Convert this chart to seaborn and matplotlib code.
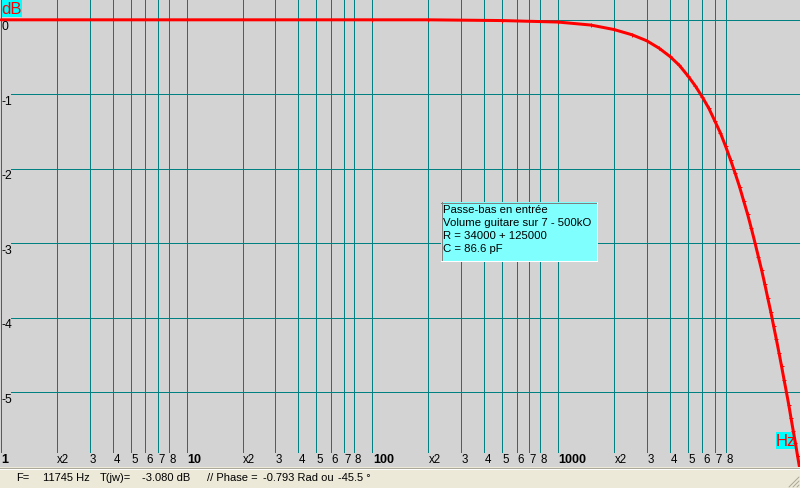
import numpy as np
import pandas as pd
import seaborn as sns
import matplotlib
matplotlib.use("Agg")
import matplotlib.pyplot as plt
import matplotlib.transforms as mtransforms
from matplotlib.patches import Rectangle
from matplotlib.lines import Line2D
from matplotlib.ticker import NullLocator

# ---------------- data ----------------
freq_hz = [1, 10, 100, 200, 500, 1000, 1500, 2000, 2500, 3000, 3500, 4000, 4500,
           5000, 5500, 6000, 6500, 7000, 7500, 8000, 8500, 9000, 9500, 10000,
           10500, 11000, 11500, 12000, 12500, 13000, 13500, 14000, 14500, 15000,
           15500, 16000, 16500, 17000, 17500, 18000, 18500, 19000, 19500, 20000,
           20500]
gain_db = [0.00, 0.00, 0.00, 0.00, -0.01, -0.03, -0.07, -0.13, -0.20, -0.28,
           -0.38, -0.49, -0.61, -0.75, -0.89, -1.04, -1.19, -1.36, -1.52, -1.70,
           -1.88, -2.06, -2.24, -2.43, -2.61, -2.80, -2.99, -3.18, -3.36, -3.55,
           -3.74, -3.92, -4.11, -4.29, -4.47, -4.65, -4.83, -5.00, -5.17, -5.35,
           -5.52, -5.68, -5.85, -6.01, -6.18]

grid_freqs = [1, 2, 3, 4, 5, 6, 7, 8,
              10, 20, 30, 40, 50, 60, 70, 80,
              100, 200, 300, 400, 500, 600, 700, 800,
              1000, 2000, 3000, 4000, 5000, 6000, 7000, 8000]
grid_labels = ["1", "x2", "3", "4", "5", "6", "7", "8",
               "10", "x2", "3", "4", "5", "6", "7", "8",
               "100", "x2", "3", "4", "5", "6", "7", "8",
               "1000", "x2", "3", "4", "5", "6", "7", "8"]
bold_labels = {"1", "10", "100", "1000"}

db_ticks = [0, -1, -2, -3, -4, -5]
db_labels = ["0", "-1", "-2", "-3", "-4", "-5"]

note_lines = ["Passe-bas en entrée",
              "Volume guitare sur 7 - 500kO",
              "R = 34000 + 125000",
              "C = 86.6 pF"]

status_parts = ["F=", "11745 Hz", "T(jw)=", "-3.080 dB", "// Phase =",
                "-0.793 Rad ou", "-45.5 °"]

# ---------------- styling ----------------
W, H = 800, 488
BG = "#d3d3d3"
TEAL = "#008080"
CYAN_LABEL = "#00ffff"
CYAN_NOTE = "#80ffff"
STATUS_BG = "#ece9d8"
PX = 72.0 / 100.0  # points per pixel at dpi 100

sns.set_style("white")
plt.rcParams["font.family"] = ["Liberation Sans", "DejaVu Sans"]

fig = plt.figure(figsize=(W / 100, H / 100), dpi=100, facecolor=BG)
plot_bottom_px = 467
ax = fig.add_axes([0, (H - plot_bottom_px) / H, 1, plot_bottom_px / H])
ax.set_facecolor(BG)
ax.set_xscale("log")
ax.set_xlim(0.988, 20110)
ax.set_ylim(-6.003, 0.266)
for s in ax.spines.values():
    s.set_visible(False)
ax.set_xticks([])
ax.set_yticks([])
ax.xaxis.set_minor_locator(NullLocator())
ax.yaxis.set_minor_locator(NullLocator())

# pixel transform (y downward, figure pixels)
T = mtransforms.Affine2D().scale(1 / W, -1 / H).translate(0, 1) + fig.transFigure

# horizontal grid
for v in db_ticks:
    ax.axhline(v, xmin=11 / W, xmax=1, color=TEAL, lw=1 * PX, zorder=1,
               antialiased=False)

# vertical grid
vline_bottom = (plot_bottom_px - 452) / plot_bottom_px
for f in grid_freqs:
    ax.axvline(f, ymin=vline_bottom, ymax=1, color=TEAL, lw=1 * PX, zorder=1,
               antialiased=False)

# x labels (left aligned on the grid line)
tx = mtransforms.blended_transform_factory(ax.transData, T)
tx = mtransforms.offset_copy(tx, fig=fig, x=0.5, y=0, units="dots")
for f, lab in zip(grid_freqs, grid_labels):
    is_bold = lab in bold_labels
    ax.text(f, 463, lab, transform=tx, ha="left", va="baseline",
            fontsize=9 if is_bold else 8.3, color="black",
            fontweight="bold" if is_bold else "normal", zorder=4)

# y labels
ty = mtransforms.blended_transform_factory(ax.transAxes, ax.transData)
ty = mtransforms.offset_copy(ty, fig=fig, x=0, y=-1.5, units="dots")
for v, lab in zip(db_ticks, db_labels):
    ax.text(2 / W, v, lab, transform=ty, ha="left", va="top", fontsize=8.8,
            color="black", zorder=4)

# "Hz" box (under the curve)
ax.add_patch(Rectangle((776, 432), 19, 17, transform=T, facecolor=CYAN_LABEL,
                       edgecolor="none", clip_on=False, zorder=2))
ax.text(785.5, 441, "Hz", transform=T, ha="center", va="center", fontsize=12,
        color="red", zorder=2.5, clip_on=False)

# curve
df = pd.DataFrame({"Hz": freq_hz, "dB": gain_db})
sns.lineplot(data=df, x="Hz", y="dB", ax=ax, color="red", lw=3 * PX,
             marker="+", markersize=4.5 * PX, markeredgewidth=1 * PX,
             markeredgecolor="red", zorder=3, sort=True)
ax.set_xlabel("")
ax.set_ylabel("")
ax.set_xlim(0.988, 20110)
ax.set_ylim(-6.003, 0.266)

# "dB" box
ax.add_patch(Rectangle((1.7, 0), 20.3, 17, transform=T, facecolor=CYAN_LABEL,
                       edgecolor="none", clip_on=False, zorder=5))
ax.text(12, 9, "dB", transform=T, ha="center", va="center", fontsize=12,
        color="red", zorder=6, clip_on=False)

# note box
ax.add_patch(Rectangle((441, 202), 156, 59, transform=T, facecolor=CYAN_NOTE,
                       edgecolor="none", clip_on=False, zorder=5))
for (x0, y0, x1, y1, c) in [(441, 202.5, 597, 202.5, "#808080"),
                            (441.5, 202, 441.5, 261, "#808080"),
                            (441, 260.5, 597, 260.5, "#ffffff"),
                            (596.5, 202, 596.5, 261, "#ffffff")]:
    ax.add_line(Line2D([x0, x1], [y0, y1], transform=T, color=c, lw=1 * PX,
                       clip_on=False, zorder=6, antialiased=False))
for i, line in enumerate(note_lines):
    ax.text(443, 213 + 13 * i, line, transform=T, ha="left", va="baseline",
            fontsize=8.2, color="black", zorder=7, clip_on=False)

# status bar
fig.add_artist(Rectangle((0, 467), W, H - 467, transform=T, facecolor=STATUS_BG,
                         edgecolor="none", zorder=1))
fig.add_artist(Line2D([0, W], [467.5, 467.5], transform=T, color="#aca899",
                      lw=1 * PX, zorder=2, antialiased=False))
fig.add_artist(Line2D([0, W], [468.5, 468.5], transform=T, color="#ffffff",
                      lw=1 * PX, zorder=2, antialiased=False))
status_x = [16, 43, 100, 142, 207, 263, 338]
for x, t in zip(status_x, status_parts):
    fig.text(x / W, 1 - 481 / H, t, ha="left", va="baseline", fontsize=8,
             color="black", zorder=3)
# size grip
for k in (3, 7, 11):
    fig.add_artist(Line2D([W - k, W - 1], [H - 1, H - k], transform=T,
                          color="#aca899", lw=1 * PX, zorder=3))

fig.savefig("out.png", dpi=100, facecolor=BG)
